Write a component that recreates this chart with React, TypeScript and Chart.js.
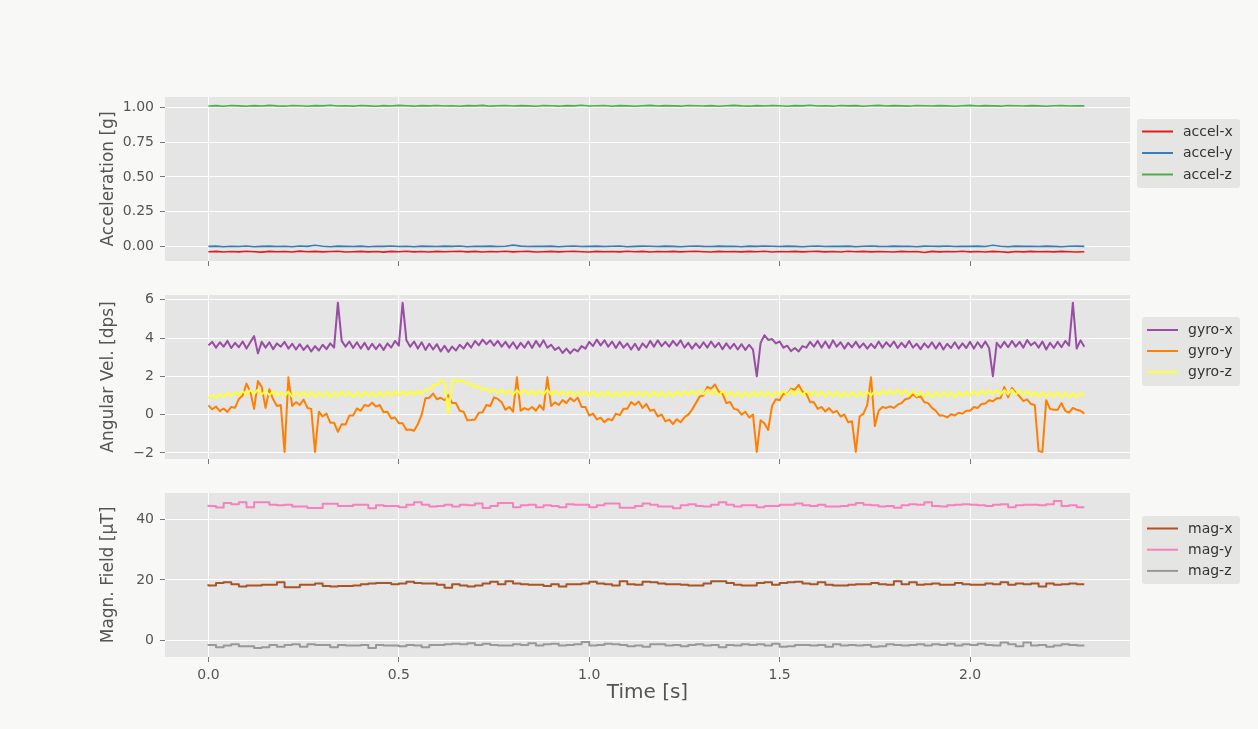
import React, { useEffect, useRef } from "react";
import { Chart, registerables } from "chart.js";

Chart.register(...registerables);

const FONT = "'DejaVu Sans', 'Liberation Sans', sans-serif";

// ---------- data ----------
const accelDt = 0.02;
const gyroDt = 0.01;
const magDt = 0.02;

const timeTicks = [0, 0.5, 1.0, 1.5, 2.0];
const accelTicks = [0, 0.25, 0.5, 0.75, 1.0];
const gyroTicks = [-2, 0, 2, 4, 6];
const magTicks = [0, 20, 40];

const accelX = [
  -0.038, -0.036, -0.040, -0.037, -0.039, -0.035, -0.038, -0.041, -0.036, -0.038,
  -0.037, -0.040, -0.034, -0.038, -0.036, -0.039, -0.037, -0.035, -0.040, -0.038,
  -0.036, -0.039, -0.037, -0.041, -0.036, -0.038, -0.035, -0.039, -0.037, -0.040,
  -0.036, -0.038, -0.037, -0.035, -0.039, -0.036, -0.040, -0.037, -0.038, -0.035,
  -0.039, -0.037, -0.036, -0.040, -0.038, -0.036, -0.039, -0.037, -0.035, -0.038,
  -0.040, -0.036, -0.038, -0.037, -0.039, -0.035, -0.038, -0.036, -0.040, -0.037,
  -0.038, -0.036, -0.039, -0.037, -0.035, -0.038, -0.040, -0.036, -0.038, -0.037,
  -0.039, -0.036, -0.038, -0.035, -0.040, -0.037, -0.038, -0.036, -0.039, -0.037,
  -0.036, -0.039, -0.037, -0.040, -0.035, -0.038, -0.036, -0.039, -0.037, -0.038,
  -0.040, -0.036, -0.038, -0.037, -0.044, -0.036, -0.039, -0.037, -0.038, -0.035,
  -0.039, -0.037, -0.040, -0.036, -0.038, -0.043, -0.037, -0.039, -0.036, -0.038,
  -0.037, -0.039, -0.036, -0.038, -0.040, -0.038,
];
const accelY = [
  0.000, 0.002, -0.002, 0.001, -0.001, 0.003, -0.002, 0.000, 0.002, -0.001,
  0.001, -0.002, 0.003, 0.000, 0.008, 0.001, -0.002, 0.002, 0.000, -0.001,
  0.002, -0.002, 0.001, 0.000, 0.003, -0.001, 0.001, -0.002, 0.002, 0.000,
  -0.001, 0.002, 0.000, 0.003, -0.002, 0.001, 0.000, 0.002, -0.001, 0.001,
  0.009, 0.002, -0.001, 0.001, 0.000, 0.002, -0.002, 0.001, 0.003, -0.001,
  0.000, 0.002, -0.001, 0.001, 0.003, -0.002, 0.000, 0.002, 0.001, -0.001,
  0.002, 0.000, -0.002, 0.001, 0.003, 0.000, -0.001, 0.002, 0.000, 0.001,
  -0.002, 0.002, 0.000, 0.003, 0.001, -0.001, 0.002, 0.000, -0.002, 0.001,
  0.003, -0.001, 0.001, 0.000, 0.002, -0.002, 0.001, 0.003, 0.000, -0.001,
  0.002, 0.000, 0.001, -0.002, 0.002, 0.001, 0.000, 0.003, -0.001, 0.001,
  0.000, 0.002, -0.001, 0.008, 0.001, -0.002, 0.002, 0.000, 0.001, -0.001,
  0.002, 0.000, -0.002, 0.001, 0.002, 0.000,
];
const accelZ = [
  1.010, 1.013, 1.009, 1.014, 1.011, 1.008, 1.013, 1.010, 1.015, 1.011,
  1.009, 1.014, 1.012, 1.008, 1.013, 1.011, 1.016, 1.010, 1.012, 1.009,
  1.014, 1.011, 1.008, 1.013, 1.010, 1.015, 1.012, 1.009, 1.013, 1.011,
  1.014, 1.010, 1.012, 1.008, 1.013, 1.011, 1.015, 1.009, 1.012, 1.014,
  1.010, 1.013, 1.011, 1.008, 1.014, 1.012, 1.009, 1.013, 1.011, 1.016,
  1.010, 1.012, 1.014, 1.009, 1.013, 1.011, 1.008, 1.012, 1.015, 1.010,
  1.013, 1.011, 1.009, 1.014, 1.012, 1.010, 1.013, 1.008, 1.012, 1.015,
  1.011, 1.009, 1.013, 1.010, 1.014, 1.012, 1.008, 1.013, 1.011, 1.016,
  1.010, 1.012, 1.009, 1.014, 1.011, 1.013, 1.008, 1.012, 1.015, 1.010,
  1.013, 1.011, 1.009, 1.014, 1.012, 1.010, 1.013, 1.011, 1.008, 1.012,
  1.015, 1.010, 1.013, 1.011, 1.009, 1.014, 1.012, 1.010, 1.013, 1.011,
  1.008, 1.012, 1.014, 1.010, 1.012, 1.011,
];

const gyroX = [
  3.62, 3.80, 3.50, 3.78, 3.55, 3.85, 3.48, 3.75, 3.52, 3.82,
  3.45, 3.78, 4.10, 3.20, 3.80, 3.50, 3.78, 3.42, 3.72, 3.55,
  3.80, 3.45, 3.70, 3.40, 3.68, 3.38, 3.62, 3.30, 3.58, 3.35,
  3.65, 3.42, 3.72, 3.50, 5.85, 3.85, 3.55, 3.82, 3.48, 3.78,
  3.45, 3.75, 3.40, 3.70, 3.42, 3.68, 3.38, 3.72, 3.50, 3.85,
  3.60, 5.85, 3.88, 3.55, 3.82, 3.45, 3.78, 3.38, 3.70, 3.40,
  3.68, 3.30, 3.60, 3.28, 3.55, 3.35, 3.65, 3.45, 3.75, 3.50,
  3.85, 3.62, 3.92, 3.68, 3.88, 3.60, 3.85, 3.55, 3.80, 3.50,
  3.78, 3.45, 3.75, 3.50, 3.82, 3.48, 3.85, 3.55, 3.88, 3.50,
  3.65, 3.38, 3.52, 3.22, 3.45, 3.20, 3.42, 3.30, 3.58, 3.45,
  3.80, 3.58, 3.92, 3.62, 3.88, 3.55, 3.82, 3.48, 3.80, 3.50,
  3.72, 3.40, 3.70, 3.38, 3.72, 3.50, 3.85, 3.55, 3.88, 3.58,
  3.80, 3.55, 3.85, 3.60, 3.88, 3.50, 3.75, 3.45, 3.72, 3.48,
  3.78, 3.50, 3.82, 3.52, 3.75, 3.42, 3.72, 3.45, 3.70, 3.40,
  3.68, 3.38, 3.65, 3.40, 2.00, 3.75, 4.15, 3.90, 3.95, 3.72,
  3.82, 3.50, 3.60, 3.32, 3.48, 3.30, 3.58, 3.50, 3.80, 3.55,
  3.85, 3.50, 3.82, 3.48, 3.88, 3.55, 3.78, 3.45, 3.75, 3.52,
  3.80, 3.50, 3.72, 3.45, 3.70, 3.48, 3.82, 3.50, 3.78, 3.55,
  3.82, 3.48, 3.75, 3.52, 3.85, 3.50, 3.70, 3.42, 3.72, 3.50,
  3.78, 3.45, 3.75, 3.40, 3.70, 3.48, 3.78, 3.45, 3.72, 3.48,
  3.80, 3.45, 3.78, 3.50, 3.82, 3.48, 2.00, 3.75, 3.50, 3.80,
  3.52, 3.85, 3.55, 3.80, 3.50, 3.90, 3.62, 3.78, 3.50, 3.82,
  3.40, 3.75, 3.48, 3.80, 3.52, 3.85, 3.60, 5.85, 3.45, 3.88,
  3.55,
];
const gyroY = [
  0.48, 0.28, 0.42, 0.18, 0.32, 0.14, 0.40, 0.36, 0.82, 1.00,
  1.62, 1.20, 0.30, 1.75, 1.45, 0.35, 1.32, 0.80, 0.45, 0.50,
  -1.95, 1.95, 0.45, 0.65, 0.50, 0.78, 0.35, 0.30, -1.95, 0.15,
  -0.10, 0.05, -0.42, -0.42, -0.90, -0.50, -0.52, -0.05, -0.05, 0.32,
  0.20, 0.50, 0.45, 0.62, 0.42, 0.50, 0.12, 0.15, -0.20, -0.15,
  -0.45, -0.45, -0.80, -0.78, -0.84, -0.50, 0.00, 0.85, 0.88, 1.10,
  0.80, 0.88, 0.75, 1.02, 0.60, 0.60, 0.20, 0.15, -0.30, -0.28,
  -0.25, 0.10, 0.12, 0.50, 0.45, 0.90, 0.82, 0.65, 0.25, 0.40,
  0.15, 1.95, 0.20, 0.34, 0.25, 0.40, 0.20, 0.50, 0.25, 1.95,
  0.45, 0.64, 0.50, 0.76, 0.60, 0.86, 0.70, 0.88, 0.40, 0.40,
  -0.05, 0.05, -0.25, -0.16, -0.40, -0.22, -0.30, 0.05, -0.03, 0.30,
  0.30, 0.65, 0.50, 0.68, 0.35, 0.55, 0.20, 0.25, -0.10, 0.00,
  -0.35, -0.26, -0.50, -0.24, -0.40, -0.14, 0.00, 0.26, 0.60, 0.95,
  1.00, 1.45, 1.36, 1.58, 1.20, 1.10, 0.60, 0.66, 0.30, 0.25,
  0.00, 0.15, -0.15, 0.00, -1.95, -0.30, -0.45, -0.80, 0.45, 0.80,
  0.75, 1.10, 1.05, 1.35, 1.30, 1.56, 1.20, 1.10, 0.65, 0.65,
  0.30, 0.40, 0.16, 0.34, 0.10, 0.20, -0.10, 0.00, -0.40, -0.35,
  -1.95, -0.10, 0.05, 0.50, 1.95, -0.60, 0.20, 0.40, 0.35, 0.42,
  0.35, 0.52, 0.60, 0.80, 0.85, 1.06, 0.90, 0.95, 0.65, 0.60,
  0.35, 0.20, -0.05, -0.05, -0.15, 0.02, -0.05, 0.10, 0.05, 0.20,
  0.20, 0.40, 0.35, 0.55, 0.58, 0.75, 0.70, 0.85, 0.85, 1.45,
  0.90, 1.40, 1.15, 0.95, 0.70, 0.80, 0.55, 0.50, -1.90, -1.95,
  0.75, 0.30, 0.25, 0.25, 0.60, 0.20, 0.10, 0.35, 0.25, 0.20,
  0.05,
];
const gyroZ = [
  0.85, 1.02, 0.88, 1.08, 0.92, 1.12, 0.98, 1.18, 1.00, 1.22,
  1.05, 1.28, 1.08, 1.30, 1.05, 1.25, 1.02, 1.22, 0.98, 1.18,
  0.95, 1.20, 0.92, 1.18, 0.95, 1.20, 0.94, 1.18, 0.92, 1.16,
  0.94, 1.18, 0.92, 1.16, 0.95, 1.20, 0.96, 1.18, 0.92, 1.16,
  0.94, 1.18, 0.95, 1.16, 0.92, 1.18, 0.96, 1.20, 0.98, 1.22,
  1.00, 1.24, 1.00, 1.22, 1.02, 1.26, 1.05, 1.32, 1.28, 1.55,
  1.55, 1.80, 1.70, 0.05, 1.72, 1.85, 1.72, 1.78, 1.58, 1.62,
  1.42, 1.50, 1.28, 1.38, 1.15, 1.32, 1.10, 1.30, 1.08, 1.28,
  1.05, 1.28, 1.06, 1.30, 1.04, 1.26, 1.02, 1.28, 1.06, 1.30,
  1.04, 1.26, 1.02, 1.24, 1.00, 1.22, 0.98, 1.20, 1.00, 1.22,
  0.96, 1.20, 0.94, 1.18, 0.96, 1.20, 0.92, 1.18, 0.96, 1.20,
  0.96, 1.22, 0.98, 1.20, 0.96, 1.18, 0.94, 1.20, 0.96, 1.18,
  0.94, 1.18, 0.96, 1.20, 1.00, 1.24, 1.02, 1.26, 1.04, 1.28,
  1.06, 1.30, 1.04, 1.28, 1.00, 1.24, 0.96, 1.20, 0.94, 1.18,
  0.92, 1.16, 0.94, 1.18, 0.96, 1.20, 0.96, 1.18, 0.94, 1.20,
  1.00, 1.24, 1.02, 1.28, 1.04, 1.30, 1.02, 1.26, 0.98, 1.22,
  0.96, 1.20, 0.94, 1.18, 0.96, 1.20, 0.92, 1.16, 0.95, 1.18,
  0.94, 1.18, 0.96, 1.20, 1.00, 1.24, 1.02, 1.26, 1.04, 1.28,
  1.06, 1.30, 1.04, 1.28, 1.00, 1.24, 0.96, 1.20, 0.94, 1.16,
  0.92, 1.16, 0.94, 1.18, 0.95, 1.16, 0.92, 1.18, 0.96, 1.20,
  0.98, 1.24, 1.02, 1.26, 1.04, 1.28, 1.06, 1.30, 1.04, 1.28,
  1.06, 1.30, 1.04, 1.26, 1.00, 1.24, 0.96, 1.20, 0.94, 1.18,
  0.92, 1.16, 0.94, 1.18, 0.92, 1.14, 0.90, 1.12, 0.92, 1.12,
  0.98,
];

const magX = [
  18.6, 18.2, 19.0, 19.2, 18.6, 17.8, 18.2, 18.2, 18.4, 18.4,
  19.2, 17.6, 17.6, 18.4, 18.4, 18.8, 18.0, 17.8, 18.0, 18.0,
  18.2, 18.6, 18.8, 19.0, 19.0, 18.6, 18.8, 19.4, 19.0, 18.8,
  18.8, 18.4, 17.4, 18.6, 18.2, 17.8, 18.2, 18.8, 19.4, 18.6,
  19.6, 18.8, 18.6, 18.4, 18.4, 18.0, 18.6, 17.8, 18.6, 18.6,
  18.8, 19.4, 18.8, 18.6, 18.2, 19.6, 18.6, 18.4, 19.4, 19.2,
  18.8, 18.6, 18.6, 18.4, 18.2, 18.2, 18.8, 19.6, 19.6, 19.0,
  18.4, 18.2, 18.2, 19.0, 19.2, 18.4, 19.0, 19.2, 19.4, 18.8,
  18.6, 19.2, 18.4, 18.2, 18.2, 18.4, 18.6, 18.6, 19.0, 18.6,
  18.4, 19.6, 18.6, 19.2, 18.4, 18.6, 18.8, 18.4, 18.4, 19.0,
  18.6, 18.4, 18.4, 18.8, 18.6, 19.2, 18.4, 18.8, 18.6, 18.8,
  17.8, 18.8, 18.4, 18.6, 18.8, 18.6,
];
const magY = [
  45.0, 44.6, 44.1, 45.6, 45.2, 45.8, 44.2, 45.8, 45.8, 45.0,
  44.8, 45.0, 44.4, 44.4, 43.9, 43.9, 45.3, 45.3, 44.6, 44.6,
  45.0, 45.0, 43.8, 44.8, 44.6, 44.6, 44.2, 45.0, 45.8, 45.0,
  44.4, 44.6, 45.0, 44.4, 45.0, 44.8, 45.4, 43.9, 44.6, 45.6,
  45.6, 44.2, 44.8, 45.0, 44.2, 44.8, 44.6, 44.2, 45.2, 45.0,
  45.0, 44.2, 44.8, 45.4, 45.4, 44.0, 44.0, 44.6, 45.4, 45.0,
  44.4, 44.4, 43.8, 44.8, 45.2, 44.6, 44.4, 45.0, 45.8, 45.0,
  44.4, 44.8, 44.8, 44.2, 44.6, 44.6, 45.0, 45.0, 45.4, 44.8,
  44.6, 45.0, 44.4, 44.4, 44.6, 45.0, 45.6, 45.0, 44.8, 44.4,
  44.6, 44.0, 44.8, 45.2, 45.0, 45.8, 44.6, 44.4, 44.8, 45.0,
  45.2, 45.0, 44.8, 44.6, 45.0, 45.2, 44.2, 44.8, 45.0, 45.0,
  44.8, 45.2, 46.2, 44.6, 44.8, 44.2,
];
const magZ = [
  -1.4, -1.6, -2.4, -1.8, -1.4, -2.0, -2.0, -2.6, -2.4, -1.6,
  -2.2, -1.6, -1.4, -2.2, -1.4, -1.6, -1.6, -2.4, -1.6, -1.8,
  -1.8, -1.6, -2.6, -1.6, -1.8, -1.8, -2.0, -1.6, -1.8, -2.4,
  -1.6, -1.6, -1.4, -1.2, -1.4, -1.0, -1.6, -1.2, -1.6, -1.8,
  -1.8, -1.4, -1.6, -1.0, -1.8, -1.4, -1.2, -1.8, -1.6, -1.4,
  -0.6, -1.8, -1.6, -1.2, -1.4, -1.6, -2.0, -1.8, -2.2, -1.4,
  -1.4, -1.8, -1.6, -2.0, -1.6, -1.4, -1.8, -1.6, -2.4, -1.6,
  -1.8, -1.4, -1.6, -1.4, -1.8, -1.2, -2.2, -2.0, -1.6, -1.6,
  -1.8, -1.6, -2.2, -1.4, -1.8, -1.6, -1.8, -1.6, -2.2, -2.0,
  -1.4, -1.6, -1.8, -1.6, -1.4, -1.8, -1.4, -1.6, -1.2, -1.8,
  -1.4, -1.6, -1.2, -1.6, -1.8, -0.8, -1.4, -2.0, -0.8, -1.8,
  -1.6, -2.2, -1.8, -1.4, -1.6, -1.8,
];

// ---------- layout ----------
const W = 1258;
const X_MIN = -0.114;
const X_MAX = 2.42;
const PLOT_LEFT = 165;
const PLOT_RIGHT = 1130;
const AXIS_LEFT = 95;
const TEXT = "#555555";

type Series = {
  label: string;
  color: string;
  values: number[];
  dt: number;
  width: number;
  stepped?: boolean;
  order: number;
};

type Panel = {
  title: string;
  series: Series[];
  yMin: number;
  yMax: number;
  yTicks: number[];
  fmt: (v: number) => string;
  canvasTop: number;
  canvasHeight: number;
  plotTop: number;
  plotBottom: number;
  bottom: boolean;
  legend: { x: number; y: number; w: number; h: number; first: number; row: number; lineX: number; textX: number };
};

const minus = (v: number) => (v < 0 ? "\u2212" + Math.abs(v) : String(v));

const panels: Panel[] = [
  {
    title: "Acceleration [g]",
    series: [
      { label: "accel-x", color: "#e41a1c", values: accelX, dt: accelDt, width: 1.6, order: 2 },
      { label: "accel-y", color: "#377eb8", values: accelY, dt: accelDt, width: 1.6, order: 1 },
      { label: "accel-z", color: "#4daf4a", values: accelZ, dt: accelDt, width: 1.6, order: 0 },
    ],
    yMin: -0.105,
    yMax: 1.075,
    yTicks: accelTicks,
    fmt: (v) => v.toFixed(2),
    canvasTop: 0,
    canvasHeight: 290,
    plotTop: 97,
    plotBottom: 261,
    bottom: false,
    legend: { x: 1137, y: 119, w: 103, h: 69, first: 12.5, row: 21.5, lineX: 1142, textX: 1183 },
  },
  {
    title: "Angular Vel. [dps]",
    series: [
      { label: "gyro-x", color: "#984ea3", values: gyroX, dt: gyroDt, width: 2, order: 2 },
      { label: "gyro-y", color: "#ff7f00", values: gyroY, dt: gyroDt, width: 2, order: 1 },
      { label: "gyro-z", color: "#ffff33", values: gyroZ, dt: gyroDt, width: 2, order: 0 },
    ],
    yMin: -2.32,
    yMax: 6.25,
    yTicks: gyroTicks,
    fmt: minus,
    canvasTop: 265,
    canvasHeight: 223,
    plotTop: 295,
    plotBottom: 459,
    bottom: false,
    legend: { x: 1142, y: 317, w: 98, h: 69, first: 13, row: 21, lineX: 1147, textX: 1188 },
  },
  {
    title: "Magn. Field [\u00b5T]",
    series: [
      { label: "mag-x", color: "#a65628", values: magX, dt: magDt, width: 2, stepped: true, order: 2 },
      { label: "mag-y", color: "#f781bf", values: magY, dt: magDt, width: 2, stepped: true, order: 1 },
      { label: "mag-z", color: "#999999", values: magZ, dt: magDt, width: 2, stepped: true, order: 0 },
    ],
    yMin: -5.6,
    yMax: 48.9,
    yTicks: magTicks,
    fmt: minus,
    canvasTop: 463,
    canvasHeight: 266,
    plotTop: 493,
    plotBottom: 657,
    bottom: true,
    legend: { x: 1142, y: 516, w: 98, h: 68, first: 12.5, row: 21.2, lineX: 1147, textX: 1188 },
  },
];

// ---------- plugins ----------
const plotBackground = {
  id: "plotBackground",
  beforeDraw(chart: any) {
    const { ctx, chartArea } = chart;
    ctx.save();
    ctx.fillStyle = "#e5e5e5";
    ctx.fillRect(chartArea.left, chartArea.top, chartArea.right - chartArea.left, chartArea.bottom - chartArea.top);
    ctx.restore();
  },
};

const panelLegend = {
  id: "panelLegend",
  afterDraw(chart: any, _args: any, opts: any) {
    if (!opts || opts.x === undefined) return;
    const { ctx } = chart;
    const top = opts.canvasTop;
    ctx.save();
    ctx.fillStyle = "#e5e5e4";
    const r = 3;
    const x = opts.x, y = opts.y - top, w = opts.w, h = opts.h;
    ctx.beginPath();
    ctx.moveTo(x + r, y);
    ctx.lineTo(x + w - r, y);
    ctx.quadraticCurveTo(x + w, y, x + w, y + r);
    ctx.lineTo(x + w, y + h - r);
    ctx.quadraticCurveTo(x + w, y + h, x + w - r, y + h);
    ctx.lineTo(x + r, y + h);
    ctx.quadraticCurveTo(x, y + h, x, y + h - r);
    ctx.lineTo(x, y + r);
    ctx.quadraticCurveTo(x, y, x + r, y);
    ctx.closePath();
    ctx.fill();
    ctx.font = `14px ${FONT}`;
    ctx.textBaseline = "middle";
    ctx.textAlign = "left";
    chart.data.datasets.forEach((ds: any, i: number) => {
      const yy = y + opts.first + i * opts.row;
      ctx.strokeStyle = ds.borderColor;
      ctx.lineWidth = 2;
      ctx.beginPath();
      ctx.moveTo(opts.lineX, yy);
      ctx.lineTo(opts.lineX + 31, yy);
      ctx.stroke();
      ctx.fillStyle = "#333333";
      ctx.fillText(ds.label, opts.textX, yy + 0.5);
    });
    ctx.restore();
  },
};

function buildConfig(p: Panel): any {
  const xAxisH = p.canvasHeight - (p.plotBottom - p.canvasTop);
  return {
    type: "line",
    data: {
      datasets: p.series.map((s) => ({
        label: s.label,
        data: s.values.map((v, i) => ({ x: Math.round(i * s.dt * 100) / 100, y: v })),
        borderColor: s.color,
        backgroundColor: s.color,
        borderWidth: s.width,
        pointRadius: 0,
        tension: 0,
        fill: false,
        stepped: s.stepped ? "after" : false,
        order: s.order,
        borderJoinStyle: "round",
      })),
    },
    options: {
      animation: false,
      responsive: false,
      maintainAspectRatio: false,
      events: [],
      layout: {
        padding: { left: AXIS_LEFT, right: W - PLOT_RIGHT, top: p.plotTop - p.canvasTop, bottom: 0 },
      },
      plugins: {
        legend: { display: false },
        tooltip: { enabled: false },
        panelLegend: { ...p.legend, canvasTop: p.canvasTop },
      },
      scales: {
        x: {
          type: "linear",
          min: X_MIN,
          max: X_MAX,
          afterBuildTicks: (s: any) => {
            s.ticks = timeTicks.map((v) => ({ value: v }));
          },
          afterFit: (s: any) => {
            s.height = xAxisH;
            s.paddingLeft = 0;
            s.paddingRight = 0;
          },
          grid: { color: "#ffffff", lineWidth: 1, drawTicks: true, tickLength: 5, tickColor: "#777777", tickWidth: 1 },
          border: { display: false },
          ticks: {
            display: p.bottom,
            autoSkip: false,
            maxRotation: 0,
            padding: 5,
            color: TEXT,
            font: { family: FONT, size: 14 },
            callback: (v: number) => Number(v).toFixed(1),
          },
          title: p.bottom
            ? {
                display: true,
                text: "Time [s]",
                color: TEXT,
                font: { family: FONT, size: 20 },
                padding: { top: 0, bottom: 24 },
              }
            : { display: false },
        },
        y: {
          type: "linear",
          min: p.yMin,
          max: p.yMax,
          afterBuildTicks: (s: any) => {
            s.ticks = p.yTicks.map((v) => ({ value: v }));
          },
          afterFit: (s: any) => {
            s.width = PLOT_LEFT - AXIS_LEFT;
            s.paddingTop = 0;
            s.paddingBottom = 0;
          },
          grid: { color: "#ffffff", lineWidth: 1, drawTicks: true, tickLength: 5, tickColor: "#777777", tickWidth: 1 },
          border: { display: false },
          ticks: {
            padding: 6,
            color: TEXT,
            font: { family: FONT, size: 14 },
            callback: (v: number) => p.fmt(Number(v)),
          },
          title: {
            display: true,
            text: p.title,
            color: TEXT,
            font: { family: FONT, size: 17 },
            padding: { top: 3, bottom: 0 },
          },
        },
      },
    },
    plugins: [plotBackground, panelLegend],
  };
}

function PanelChart({ panel }: { panel: Panel }) {
  const ref = useRef<HTMLCanvasElement | null>(null);
  useEffect(() => {
    if (!ref.current) return;
    const chart = new Chart(ref.current, buildConfig(panel));
    return () => chart.destroy();
  }, [panel]);
  return (
    <canvas
      ref={ref}
      width={W}
      height={panel.canvasHeight}
      style={{ position: "absolute", left: 0, top: panel.canvasTop, width: W, height: panel.canvasHeight }}
    />
  );
}

export default function App() {
  return (
    <div
      style={{
        position: "absolute",
        left: 0,
        top: 0,
        width: W,
        height: 729,
        background: "#f8f8f6",
        overflow: "hidden",
      }}
    >
      {panels.map((p) => (
        <PanelChart key={p.title} panel={p} />
      ))}
    </div>
  );
}
